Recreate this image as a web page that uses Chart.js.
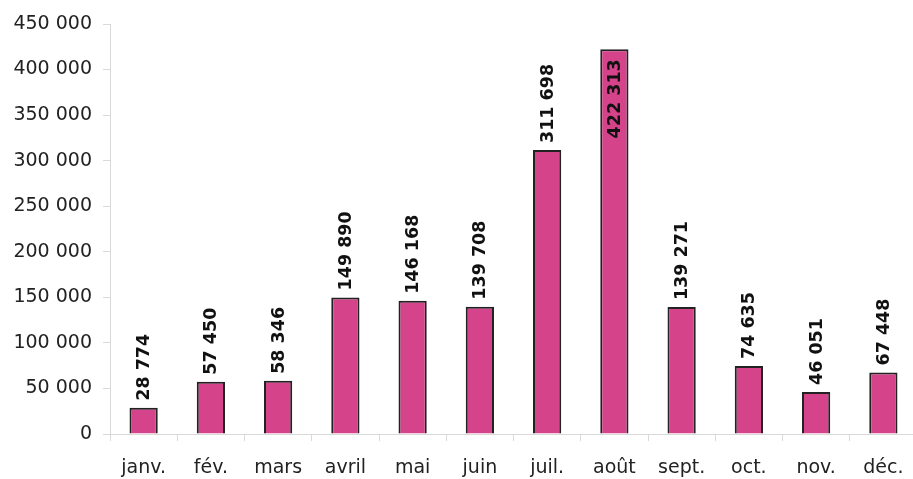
<!DOCTYPE html>
<html>
<head>
<meta charset="utf-8">
<script src="https://cdn.jsdelivr.net/npm/chart.js@4/dist/chart.umd.min.js"></script>
<style>
html,body{margin:0;padding:0;background:#fff;overflow:hidden;width:913px;height:479px;}
#wrap{position:absolute;left:0;top:0;width:920px;height:479px;}
</style>
</head>
<body>
<div id="wrap"><canvas id="c" width="920" height="479"></canvas></div>
<script>
const categories = ['janv.', 'fév.', 'mars', 'avril', 'mai', 'juin', 'juil.', 'août', 'sept.', 'oct.', 'nov.', 'déc.'];
const values = [28774, 57450, 58346, 149890, 146168, 139708, 311698, 422313, 139271, 74635, 46051, 67448];
const yTicks = [0, 50000, 100000, 150000, 200000, 250000, 300000, 350000, 400000, 450000];

const fmt = v => String(v).replace(/\B(?=(\d{3})+(?!\d))/g, ' ');
const FONT = "'DejaVu Sans', Verdana, sans-serif";

const labelPlugin = {
  id: 'barLabels',
  afterDatasetsDraw(chart) {
    const ctx = chart.ctx;
    const meta = chart.getDatasetMeta(0);
    ctx.save();
    ctx.font = "bold 17.5px " + FONT;
    ctx.fillStyle = '#111';
    ctx.textBaseline = 'middle';
    meta.data.forEach((bar, i) => {
      const txt = fmt(values[i]);
      const w = ctx.measureText(txt).width;
      ctx.save();
      if (bar.y - 7 - w < 2) {
        ctx.translate(bar.x, bar.y + 10);
        ctx.rotate(-Math.PI / 2);
        ctx.textAlign = 'right';
      } else {
        ctx.translate(bar.x, bar.y - 7);
        ctx.rotate(-Math.PI / 2);
        ctx.textAlign = 'left';
      }
      ctx.fillText(txt, 0, 1);
      ctx.restore();
    });
    ctx.restore();
  }
};

new Chart(document.getElementById('c'), {
  type: 'bar',
  data: {
    labels: categories,
    datasets: [{
      data: values,
      backgroundColor: '#d5438b',
      borderColor: '#222222',
      borderWidth: 2,
      barPercentage: 0.42,
      categoryPercentage: 1.0
    }]
  },
  options: {
    responsive: false,
    animation: false,
    devicePixelRatio: 1,
    layout: { padding: { top: 24, right: 3, left: 0, bottom: 0 } },
    plugins: { legend: { display: false }, tooltip: { enabled: false } },
    scales: {
      x: {
        grid: { offset: true, drawOnChartArea: false, drawTicks: true, tickLength: 7, color: '#d9d9d9' },
        border: { color: '#d9d9d9', width: 1 },
        ticks: { font: { family: FONT, size: 19 }, color: '#222', padding: 16, maxRotation: 0 },
        afterFit(s) { s.height = 45; }
      },
      y: {
        min: 0, max: 450000,
        afterBuildTicks(s) { s.ticks = yTicks.map(v => ({ value: v })); },
        grid: { drawOnChartArea: false, drawTicks: true, tickLength: 7, color: '#d9d9d9' },
        border: { color: '#d9d9d9', width: 1 },
        ticks: { font: { family: FONT, size: 19 }, color: '#222', padding: 11, callback: v => fmt(v) },
        afterFit(s) { s.width = 110; }
      }
    }
  },
  plugins: [labelPlugin]
});
</script>
</body>
</html>
